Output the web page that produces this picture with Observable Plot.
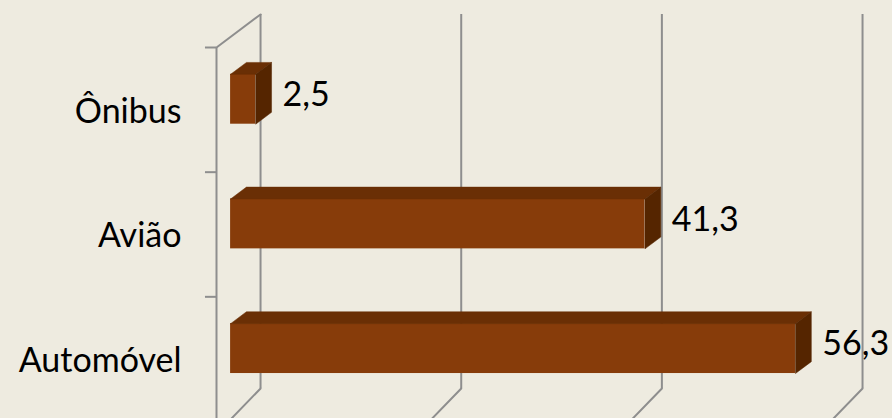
<!DOCTYPE html>
<html>
<head>
<meta charset="utf-8">
<script src="https://cdn.jsdelivr.net/npm/d3@7"></script>
<script src="https://cdn.jsdelivr.net/npm/@observablehq/plot@0.6"></script>
<style>
  html, body { margin: 0; padding: 0; background: #EEEBE0; }
  #chart svg { display: block; background: #EEEBE0; }
</style>
</head>
<body>
<div id="chart"></div>
<script>
// ---- data ----
const categories = ["Automóvel", "Avião", "Ônibus"];
const values = [56.3, 41.3, 2.5];
const valueLabels = ["56,3", "41,3", "2,5"];
const gridTicks = [0, 20, 40, 60];
const categoryTicks = [1, 2, 3];

// ---- 3D projection (in data units) ----
const DEPTH_X = 4.39;   // x shift for full depth of the box
const DEPTH_Y = 0.265;  // y shift for full depth of the box
const D_FRONT = 0.32, D_BACK = 0.68; // bar depth span
const HALF = 0.2;        // half bar thickness (band units)

const fronts = [], polys = [];
categories.forEach((c, i) => {
  const v = values[i];
  const ox = D_FRONT * DEPTH_X, oy = D_FRONT * DEPTH_Y;
  const ddx = (D_BACK - D_FRONT) * DEPTH_X, ddy = (D_BACK - D_FRONT) * DEPTH_Y;
  const yc = i + 0.5 + oy;
  const x1 = ox, x2 = v + ox, yt = yc + HALF, yb = yc - HALF;
  fronts.push({c, x1, x2, y1: yb, y2: yt, yc, label: valueLabels[i]});
  // top face
  [[x1, yt], [x2, yt], [x2 + ddx, yt + ddy], [x1 + ddx, yt + ddy], [x1, yt]]
    .forEach(([x, y]) => polys.push({id: c + "-top", face: "top", x, y}));
  // side face
  [[x2, yt], [x2 + ddx, yt + ddy], [x2 + ddx, yb + ddy], [x2, yb], [x2, yt]]
    .forEach(([x, y]) => polys.push({id: c + "-side", face: "side", x, y}));
});

// grid: back vertical lines + floor diagonals
const floorLines = [];
gridTicks.forEach(t => {
  floorLines.push({id: "f" + t, x: t + DEPTH_X, y: DEPTH_Y});
  floorLines.push({id: "f" + t, x: t, y: -0.1});
});
// left wall top diagonal
const wallTop = [
  {x: 0, y: 3},
  {x: DEPTH_X, y: 3 + DEPTH_Y}
];

const gray = "#8E8E8E";
const font = "Lato, 'Open Sans', sans-serif";

const chart = Plot.plot({
  width: 892,
  height: 418,
  style: {background: "#EEEBE0", fontFamily: font},
  x: {domain: [0, 60], range: [216, 818], axis: null},
  y: {domain: [0, 3], range: [421, 47], axis: null},
  marks: [
    // back wall vertical gridlines
    Plot.ruleX(gridTicks, {x: d => d + DEPTH_X, y1: DEPTH_Y, y2: 3 + DEPTH_Y, stroke: gray, strokeWidth: 2}),
    // floor diagonals
    Plot.line(floorLines, {x: "x", y: "y", z: "id", stroke: gray, strokeWidth: 2}),
    // left wall front edge
    Plot.ruleX([0], {y1: -0.1, y2: 3, stroke: gray, strokeWidth: 2}),
    Plot.line(wallTop, {x: "x", y: "y", stroke: gray, strokeWidth: 2}),
    // category ticks
    Plot.ruleY(categoryTicks, {x1: -1.1, x2: 0, stroke: gray, strokeWidth: 2}),
    // bars: front faces
    Plot.rect(fronts, {x1: "x1", x2: "x2", y1: "y1", y2: "y2", fill: "#873C0A"}),
    // bars: top and side faces
    Plot.line(polys.filter(d => d.face === "top"), {x: "x", y: "y", z: "id", fill: "#6A2F05", stroke: "#6A2F05", strokeWidth: 0.5}),
    Plot.line(polys.filter(d => d.face === "side"), {x: "x", y: "y", z: "id", fill: "#552500", stroke: "#552500", strokeWidth: 0.5}),
    // category labels
    Plot.text(categories, {x: 0, y: (d, i) => i + 0.5, text: d => d, textAnchor: "end", dx: -35, dy: 2, fontSize: 34, fill: "#000"}),
    // value labels
    Plot.text(fronts, {x: d => d.x2 + (D_BACK - D_FRONT) * DEPTH_X, y: "yc", text: "label", textAnchor: "start", dx: 11, dy: -4, fontSize: 34, fill: "#000"})
  ]
});
document.getElementById("chart").appendChild(chart);
</script>
</body>
</html>
